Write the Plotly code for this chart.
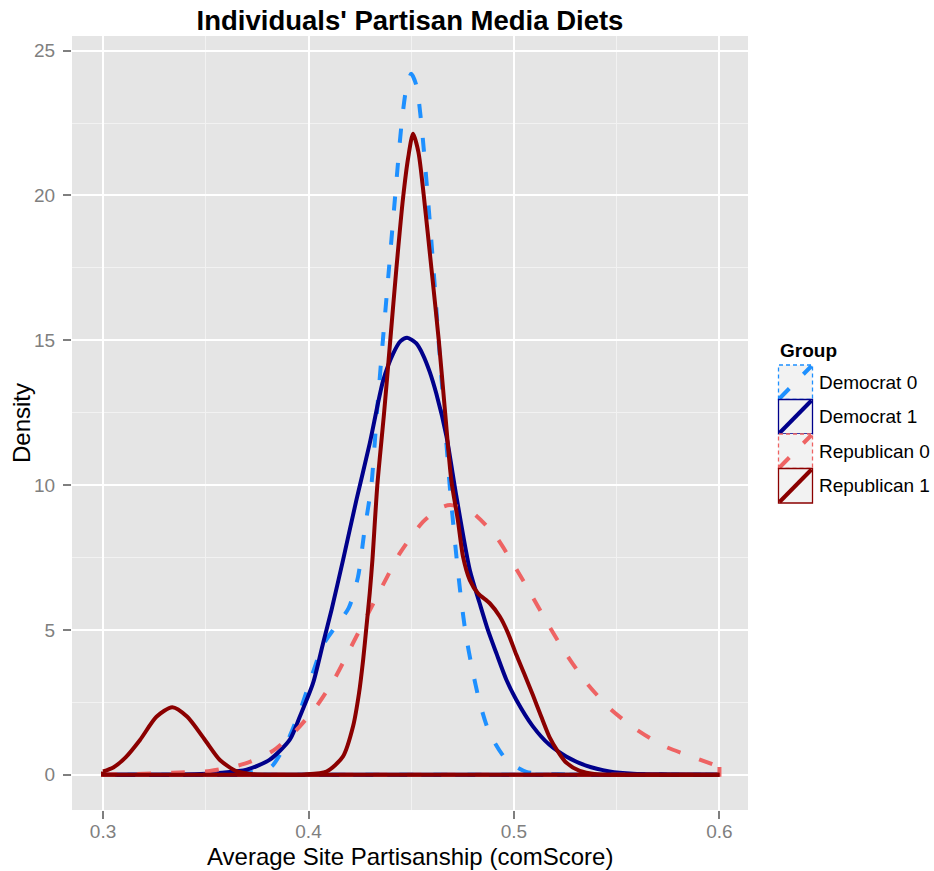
import plotly.graph_objects as go

# ---------------- data ----------------
groups = ["Democrat 0", "Democrat 1", "Republican 0", "Republican 1"]

dem0_x = [0.300, 0.350, 0.365, 0.375, 0.382, 0.390, 0.3966, 0.4015, 0.4071, 0.4130,
          0.4196, 0.4241, 0.4272, 0.4306, 0.4333, 0.4362, 0.4392, 0.4422, 0.4452, 0.4476,
          0.4500, 0.4525, 0.4549, 0.4580, 0.4608, 0.4633, 0.4660, 0.4687, 0.4720, 0.4744,
          0.4766, 0.4796, 0.4833, 0.4881, 0.4963, 0.5060, 0.5200, 0.5400, 0.6000]
dem0_y = [0.0, 0.0, 0.02, 0.12, 0.28, 1.2, 2.36, 3.39, 4.48, 5.1,
          5.76, 6.83, 8.4, 10.0, 12.5, 15.0, 17.5, 20.0, 22.4, 23.7,
          24.2, 23.8, 22.5, 20.0, 17.5, 15.0, 12.5, 10.0, 7.53, 5.98,
          4.83, 3.68, 2.5, 1.44, 0.52, 0.1, 0.02, 0.0, 0.0]

dem1_x = [0.300, 0.340, 0.358, 0.3699, 0.3812, 0.3909, 0.3958, 0.4022, 0.4071, 0.4112,
          0.4168, 0.4233, 0.4298, 0.4363, 0.4412, 0.4448, 0.4480, 0.4525, 0.4557, 0.4590,
          0.4622, 0.4671, 0.4720, 0.4785, 0.4833, 0.4873, 0.4914, 0.4963, 0.5011, 0.5092,
          0.5173, 0.5254, 0.5351, 0.5465, 0.5580, 0.5750, 0.6000]
dem1_y = [0.0, 0.01, 0.07, 0.17, 0.52, 1.21, 2.01, 3.16, 4.54, 5.69,
          7.41, 9.48, 11.44, 13.6, 14.54, 14.97, 15.09, 14.89, 14.5, 13.91,
          13.16, 11.7, 9.6, 7.07, 5.92, 5.0, 4.2, 3.28, 2.59, 1.67,
          1.03, 0.63, 0.31, 0.11, 0.03, 0.01, 0.0]

rep0_x = [0.300, 0.320, 0.334, 0.352, 0.369, 0.3828, 0.3942, 0.4039, 0.4128, 0.4201,
          0.4274, 0.4379, 0.4444, 0.4557, 0.4640, 0.4689, 0.4792, 0.4906, 0.4995, 0.5092,
          0.5173, 0.5254, 0.5351, 0.5465, 0.5586, 0.5724, 0.5886, 0.6000]
rep0_y = [0.01, 0.03, 0.07, 0.13, 0.38, 0.83, 1.55, 2.36, 3.33, 4.33,
          5.34, 6.78, 7.64, 8.73, 9.2, 9.31, 9.08, 8.28, 7.3, 6.12,
          5.11, 4.17, 3.19, 2.30, 1.61, 1.01, 0.57, 0.27]

rep1_x = [0.300, 0.305, 0.311, 0.318, 0.326, 0.3337, 0.341, 0.3496, 0.357, 0.365,
          0.373, 0.385, 0.398, 0.4088, 0.4168, 0.4217, 0.4246, 0.4266, 0.4282, 0.4298,
          0.4311, 0.4335, 0.4368, 0.4398, 0.4428, 0.4460, 0.4485, 0.4509, 0.4535, 0.4561,
          0.4598, 0.4634, 0.4665, 0.4695, 0.4727, 0.4752, 0.4785, 0.4825, 0.4882, 0.4931,
          0.4971, 0.5011, 0.5052, 0.5092, 0.5133, 0.5173, 0.5214, 0.5254, 0.5320, 0.5400,
          0.5500, 0.6000]
rep1_y = [0.11, 0.25, 0.6, 1.2, 2.0, 2.33, 2.0, 1.2, 0.5, 0.12,
          0.02, 0.0, 0.01, 0.11, 0.63, 1.67, 2.82, 3.97, 5.11, 6.27,
          7.41, 10.0, 12.5, 15.0, 17.5, 19.9, 21.3, 22.13, 21.5, 20.0,
          17.5, 15.0, 12.5, 10.17, 8.79, 7.53, 6.72, 6.26, 5.92, 5.46,
          4.89, 4.15, 3.45, 2.75, 2.0, 1.3, 0.8, 0.42, 0.13, 0.02,
          0.0, 0.0]

x_ticks = [0.3, 0.4, 0.5, 0.6]
x_tick_labels = ["0.3", "0.4", "0.5", "0.6"]
y_ticks = [0, 5, 10, 15, 20, 25]
y_tick_labels = ["0", "5", "10", "15", "20", "25"]

series_x = [dem0_x, dem1_x, rep0_x, rep1_x]
series_y = [dem0_y, dem1_y, rep0_y, rep1_y]

# ---------------- styles ----------------
colors = ["#1E90FF", "#00008B", "#EE6363", "#8B0000"]
dash_style = ["14px,20px", "solid", "14px,20px", "solid"]
LW = 4
FONT = "Liberation Sans, Arial, sans-serif"

W, H = 934, 871
ML, MR, MT, MB = 72, 186, 36, 61
PW, PH = W - ML - MR, H - MT - MB


def px_x(px):
    return (px - ML) / PW


def px_y(py):
    return (H - MB - py) / PH


fig = go.Figure()
for g, xs, ys, c, d in zip(groups, series_x, series_y, colors, dash_style):
    fig.add_trace(go.Scatter(
        x=xs, y=ys, mode="lines", name=g, legendgroup=g, showlegend=False,
        line=dict(color=c, width=LW, dash=d, shape="spline", smoothing=0.7),
        hoverinfo="skip"))
    # closing outline of the density polygon (down to baseline and back)
    fig.add_trace(go.Scatter(
        x=[xs[-1], xs[-1], xs[0], xs[0]], y=[ys[-1], 0, 0, ys[0]],
        mode="lines", legendgroup=g, showlegend=False,
        line=dict(color=c, width=LW, dash=d), hoverinfo="skip"))

# ---------------- manual ggplot-style legend ----------------
shapes = []
annotations = []
annotations.append(dict(text="<b>Group</b>", x=px_x(778), y=px_y(350), xref="paper", yref="paper",
                        xanchor="left", yanchor="middle", showarrow=False,
                        font=dict(family=FONT, size=19, color="black")))
key_top = 365
key_h = 34.5
for i, (g, c, d) in enumerate(zip(groups, colors, dash_style)):
    t = key_top + i * key_h
    b = t + key_h
    border_dash = "4px,3px" if d != "solid" else "solid"
    shapes.append(dict(type="rect", xref="paper", yref="paper",
                       x0=px_x(778.5), x1=px_x(812.5), y0=px_y(b), y1=px_y(t),
                       fillcolor="#F2F2F2", line=dict(color=c, width=1.3, dash=border_dash),
                       layer="above"))
    shapes.append(dict(type="line", xref="paper", yref="paper",
                       x0=px_x(779.5), y0=px_y(b - 1), x1=px_x(811.5), y1=px_y(t + 1),
                       line=dict(color=c, width=LW, dash=d), layer="above"))
    annotations.append(dict(text=g, x=px_x(817), y=px_y((t + b) / 2), xref="paper", yref="paper",
                            xanchor="left", yanchor="middle", showarrow=False,
                            font=dict(family=FONT, size=19, color="black")))

# axis titles
annotations.append(dict(text="Average Site Partisanship (comScore)", x=0.5, y=px_y(856),
                        xref="paper", yref="paper", xanchor="center", yanchor="middle",
                        showarrow=False, font=dict(family=FONT, size=24, color="black")))
annotations.append(dict(text="Density", x=px_x(21), y=0.5, textangle=-90,
                        xref="paper", yref="paper", xanchor="center", yanchor="middle",
                        showarrow=False, font=dict(family=FONT, size=24, color="black")))

fig.update_layout(
    width=W, height=H,
    margin=dict(l=ML, r=MR, t=MT, b=MB, autoexpand=False),
    paper_bgcolor="white", plot_bgcolor="#E5E5E5",
    title=dict(text="<b>Individuals' Partisan Media Diets</b>", x=px_x(410), xref="paper",
               y=1 - 20 / H, yref="container", xanchor="center", yanchor="middle",
               font=dict(family=FONT, size=27.5, color="black")),
    shapes=shapes, annotations=annotations, showlegend=False,
    xaxis=dict(range=[0.2849, 0.6139], tickvals=x_ticks, ticktext=x_tick_labels,
               showgrid=True, gridcolor="white", gridwidth=2, zeroline=False,
               ticks="outside", ticklen=8, tickwidth=1.5, tickcolor="#7F7F7F",
               tickfont=dict(family=FONT, size=19, color="#7F7F7F"),
               showline=False, ticklabelstandoff=-4,
               minor=dict(tickvals=[0.35, 0.45, 0.55], showgrid=True,
                          gridcolor="#F2F2F2", gridwidth=1, ticks="")),
    yaxis=dict(range=[-1.219, 25.507], tickvals=y_ticks, ticktext=y_tick_labels,
               showgrid=True, gridcolor="white", gridwidth=2, zeroline=False,
               ticks="outside", ticklen=8, tickwidth=1.5, tickcolor="#7F7F7F",
               tickfont=dict(family=FONT, size=19, color="#7F7F7F"),
               showline=False, ticklabelstandoff=4,
               minor=dict(tickvals=[2.5, 7.5, 12.5, 17.5, 22.5], showgrid=True,
                          gridcolor="#F2F2F2", gridwidth=1, ticks="")),
)

fig.write_html("out.html", config={"displayModeBar": False},
               post_script="document.body.style.margin='0';document.body.style.overflow='hidden';")
